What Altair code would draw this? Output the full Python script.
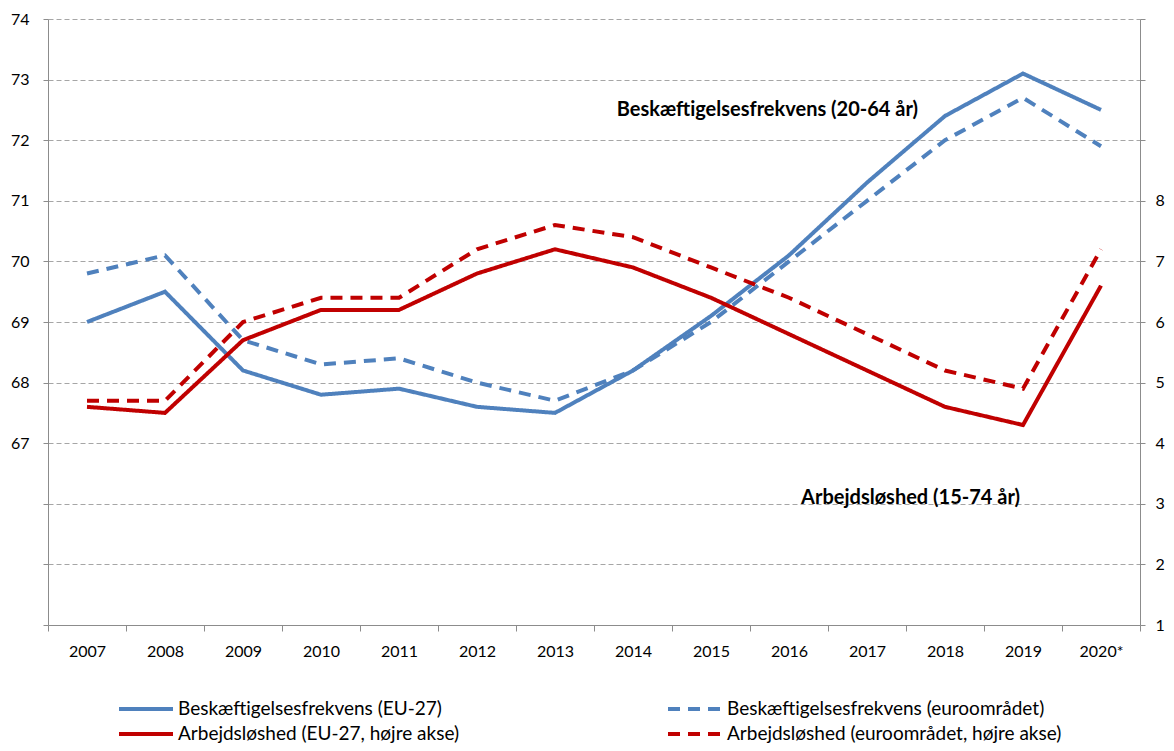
import altair as alt
import pandas as pd

years = ["2007", "2008", "2009", "2010", "2011", "2012", "2013", "2014",
         "2015", "2016", "2017", "2018", "2019", "2020*"]
emp_eu27 = [69.0, 69.5, 68.2, 67.8, 67.9, 67.6, 67.5, 68.2, 69.1, 70.1, 71.3, 72.4, 73.1, 72.5]
emp_euro = [69.8, 70.1, 68.7, 68.3, 68.4, 68.0, 67.7, 68.2, 69.0, 70.0, 71.0, 72.0, 72.7, 71.9]
unemp_eu27 = [4.6, 4.5, 5.7, 6.2, 6.2, 6.8, 7.2, 6.9, 6.4, 5.8, 5.2, 4.6, 4.3, 6.6]
unemp_euro = [4.7, 4.7, 6.0, 6.4, 6.4, 7.2, 7.6, 7.4, 6.9, 6.4, 5.8, 5.2, 4.9, 7.2]
# legend order (column-major layout: col 1 = EU-27, col 2 = euroområdet)
series_names = [
    "Beskæftigelsesfrekvens (EU-27)",
    "Arbejdsløshed (EU-27, højre akse)",
    "Beskæftigelsesfrekvens (euroområdet)",
    "Arbejdsløshed (euroområdet, højre akse)",
]
left_ticks = list(range(64, 75))
right_ticks = list(range(1, 12))
ann_emp = {"year": ["2018"], "value": [72.5], "text": ["Beskæftigelsesfrekvens (20-64 år)"]}
ann_unemp = {"year": ["2019"], "value": [3.1], "text": ["Arbejdsløshed (15-74 år)"]}

emp = pd.DataFrame({
    "year": years * 2,
    "value": emp_eu27 + emp_euro,
    "series": [series_names[0]] * len(years) + [series_names[2]] * len(years),
})
unemp = pd.DataFrame({
    "year": years * 2,
    "value": unemp_eu27 + unemp_euro,
    "series": [series_names[1]] * len(years) + [series_names[3]] * len(years),
})

FONT = "Lato"
BLUE = "#4F81BD"
RED = "#C00000"
GRAY = "#8C8C8C"
GRID = "#A6A6A6"

legend = alt.Legend(
    title=None, orient="none", legendX=87, legendY=679, columns=2,
    columnPadding=200, rowPadding=4, symbolType="M-3,0H3", symbolSize=324,
    symbolStrokeWidth=4, labelFont=FONT, labelFontSize=19, labelOffset=21,
    labelLimit=600, labelColor="black",
)

x = alt.X(
    "year:O", sort=years,
    scale=alt.Scale(type="band", paddingInner=0, paddingOuter=0),
    axis=alt.Axis(title=None, labelAngle=0, tickBand="extent", domainColor=GRAY,
                  tickColor=GRAY, tickSize=6, labelPadding=12, labelFontSize=16,
                  labelFont=FONT, labelColor="black", grid=False),
)
stroke = alt.Stroke("series:N", scale=alt.Scale(domain=series_names, range=[BLUE, RED, BLUE, RED]),
                    legend=legend)
dash = alt.StrokeDash("series:N", scale=alt.Scale(domain=series_names,
                                                  range=[[1, 0], [1, 0], [12, 8], [12, 8]]),
                      legend=legend)

y_left = alt.Y(
    "value:Q", scale=alt.Scale(domain=[64, 74], nice=False, zero=False),
    axis=alt.Axis(title=None, values=left_ticks, labelExpr="datum.value >= 67 ? datum.label : ''",
                  grid=True, gridDash=[5, 3], gridColor=GRID, domainColor=GRAY, tickColor=GRAY,
                  tickSize=5, labelPadding=14, labelFontSize=16, labelFont=FONT, labelColor="black"),
)
y_right = alt.Y(
    "value:Q", scale=alt.Scale(domain=[1, 11], nice=False, zero=False),
    axis=alt.Axis(title=None, orient="right", values=right_ticks,
                  labelExpr="datum.value <= 8 ? datum.label : ''", grid=False,
                  domainColor=GRAY, tickColor=GRAY, tickSize=5, labelPadding=10,
                  labelFontSize=16, labelFont=FONT, labelColor="black"),
)

left_lines = alt.Chart(emp).mark_line(strokeWidth=4).encode(x=x, y=y_left, stroke=stroke, strokeDash=dash)
left_text = alt.Chart(pd.DataFrame(ann_emp)).mark_text(
    align="right", baseline="middle", dx=-27, font=FONT, fontSize=20, fontWeight="bold", color="black"
).encode(x=x, y=y_left, text="text:N")

right_lines = alt.Chart(unemp).mark_line(strokeWidth=4).encode(x=x, y=y_right, stroke=stroke, strokeDash=dash)
right_text = alt.Chart(pd.DataFrame(ann_unemp)).mark_text(
    align="right", baseline="middle", dx=-3, font=FONT, fontSize=20, fontWeight="bold", color="black"
).encode(x=x, y=y_right, text="text:N")

chart = alt.layer(
    alt.layer(left_lines, left_text),
    alt.layer(right_lines, right_text),
).resolve_scale(y="independent").properties(
    width=1092, height=606,
    padding={"left": 40, "top": 11, "right": 26, "bottom": 118},
    autosize=alt.AutoSizeParams(type="none"),
).configure_view(stroke=None)

chart.save("out.html", embed_options={"renderer": "svg", "actions": False})
